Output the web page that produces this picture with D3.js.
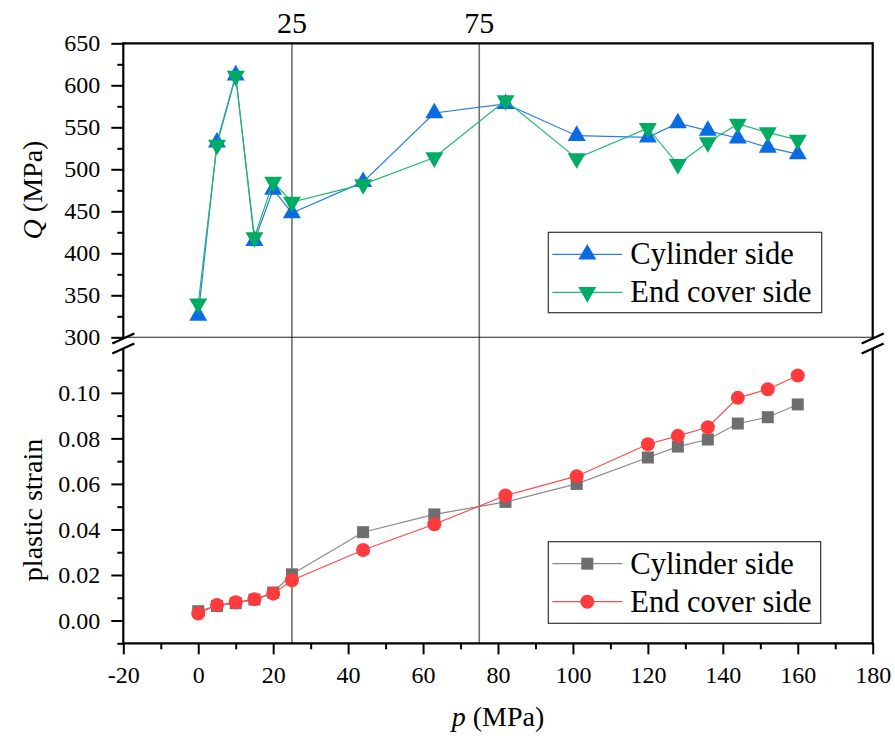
<!DOCTYPE html>
<html>
<head>
<meta charset="utf-8">
<script src="https://cdn.jsdelivr.net/npm/d3@7"></script>
<style>
  body { margin: 0; background: #fff; }
  svg { display: block; }
  text { font-family: "Liberation Serif", "Times New Roman", serif; fill: #000; }
</style>
</head>
<body>
<svg id="chart" width="895" height="742"></svg>
<script>
// Applied pressure p (MPa) at each sampling step
const pressure = [0, 5, 10, 15, 20, 25, 44, 63, 82, 101, 120, 128, 136, 144, 152, 160];

// Q (MPa) on the two sides
const qCylinder = [326, 532, 612, 415, 476, 448, 485, 567, 578, 540, 538, 555, 546, 537, 526, 518];
const qEndCover = [340, 529, 611, 419, 485, 461, 482, 514, 582, 513, 549, 506, 532, 554, 544, 535];

// Plastic strain on the two sides
const strainCylinder = [0.0041, 0.0064, 0.0076, 0.0092, 0.0123, 0.0203, 0.0388, 0.0466, 0.0521, 0.0600, 0.0716, 0.0764, 0.0795, 0.0865, 0.0893, 0.0949];
const strainEndCover = [0.0031, 0.0068, 0.0080, 0.0094, 0.0118, 0.0177, 0.0310, 0.0423, 0.0549, 0.0634, 0.0774, 0.0811, 0.0849, 0.0978, 0.1016, 0.1076];

// Reference pressures marked with vertical lines
const markerLines = [25, 75];

const seriesNames = ["Cylinder side", "End cover side"];

// Tick values
const pTicks = [-20, 0, 20, 40, 60, 80, 100, 120, 140, 160, 180];
const pMinorTicks = [-10, 10, 30, 50, 70, 90, 110, 130, 150, 170];
const qTicks = [300, 350, 400, 450, 500, 550, 600, 650];
const qMinorTicks = [325, 375, 425, 475, 525, 575, 625];
const strainTicks = [0, 0.02, 0.04, 0.06, 0.08, 0.10];
const strainMinorTicks = [-0.01, 0.01, 0.03, 0.05, 0.07, 0.09, 0.11];

const svg = d3.select("#chart");
const serif = '"Liberation Serif", "Times New Roman", serif';

const left = 123.3, right = 872.7;
const topY0 = 43.3, topY1 = 337.3;     // upper panel
const botY0 = 347.3, botY1 = 643.3;    // lower panel

const x = d3.scaleLinear().domain([-20, 180]).range([left, right]);
const yQ = d3.scaleLinear().domain([300, 650]).range([topY1, topY0]);
const yS = d3.scaleLinear().domain([-0.01, 0.12]).range([botY1, botY0]);

const colors = {
  blue: "#0a6be3", blueLine: "#2a7de6",
  green: "#00ab63", greenLine: "#22b874",
  grey: "#6e6e6e", greyLine: "#8a8a8a",
  red: "#ff3b3e", redLine: "#ff4a4d"
};

// Vertical reference lines spanning both panels
svg.append("g").selectAll("line").data(markerLines).join("line")
  .attr("x1", d => x(d)).attr("x2", d => x(d))
  .attr("y1", topY0).attr("y2", botY1)
  .attr("stroke", "#707070").attr("stroke-width", 1.6);

svg.append("g").selectAll("text").data(markerLines).join("text")
  .attr("x", d => x(d)).attr("y", 33)
  .attr("text-anchor", "middle")
  .attr("font-size", 30)
  .text(d => d);

// Upper panel frame: top line and thin lower boundary
svg.append("line").attr("x1", left).attr("x2", right).attr("y1", topY0).attr("y2", topY0)
  .attr("stroke", "#000").attr("stroke-width", 2.2);
svg.append("line").attr("x1", left).attr("x2", right).attr("y1", topY1).attr("y2", topY1)
  .attr("stroke", "#222").attr("stroke-width", 1.1);

// Axes with outward ticks
function styleAxis(g) {
  g.attr("font-family", null).attr("font-size", null);
  g.select(".domain").remove();
  g.selectAll(".tick line").attr("stroke", "#000").attr("stroke-width", 2);
  g.selectAll(".tick text")
    .style("font-family", serif)
    .style("font-size", "24px")
    .attr("fill", "#000");
}

const plain = d => String(d);

svg.append("g").attr("transform", `translate(${left},0)`)
  .call(d3.axisLeft(yQ).tickValues(qTicks).tickSize(12).tickPadding(11).tickFormat(plain))
  .call(styleAxis);
svg.append("g").attr("transform", `translate(${left},0)`)
  .call(d3.axisLeft(yQ).tickValues(qMinorTicks).tickSize(6).tickFormat(""))
  .call(styleAxis);

svg.append("g").attr("transform", `translate(${left},0)`)
  .call(d3.axisLeft(yS).tickValues(strainTicks).tickSize(12).tickPadding(11).tickFormat(d => d.toFixed(2)))
  .call(styleAxis);
svg.append("g").attr("transform", `translate(${left},0)`)
  .call(d3.axisLeft(yS).tickValues(strainMinorTicks).tickSize(6).tickFormat(""))
  .call(styleAxis);

svg.append("g").attr("transform", `translate(0,${botY1})`)
  .call(d3.axisBottom(x).tickValues(pTicks).tickSize(11).tickPadding(12).tickFormat(plain))
  .call(styleAxis);
svg.append("g").attr("transform", `translate(0,${botY1})`)
  .call(d3.axisBottom(x).tickValues(pMinorTicks).tickSize(6).tickFormat(""))
  .call(styleAxis);

// Bottom axis line
svg.append("line").attr("x1", left - 1).attr("x2", right + 1).attr("y1", botY1).attr("y2", botY1)
  .attr("stroke", "#000").attr("stroke-width", 2.2);

// Left and right axis lines, interrupted by the break
const breakA = 338.5, breakB = 348.5;
[left, right].forEach(ax => {
  svg.append("line").attr("x1", ax).attr("x2", ax).attr("y1", topY0 - 1).attr("y2", breakA)
    .attr("stroke", "#000").attr("stroke-width", 2.2);
  svg.append("line").attr("x1", ax).attr("x2", ax).attr("y1", breakB).attr("y2", botY1 + 1)
    .attr("stroke", "#000").attr("stroke-width", 2.2);
  [breakA, breakB].forEach(by => {
    svg.append("line")
      .attr("x1", ax - 11).attr("y1", by + 5)
      .attr("x2", ax + 11).attr("y2", by - 5)
      .attr("stroke", "#000").attr("stroke-width", 2.4);
  });
});

// Series drawing helper
function drawSeries(values, yScale, lineColor, markColor, symbol, rotate) {
  const pts = pressure.map((p, i) => [p, values[i]]);
  const g = svg.append("g");
  g.append("path")
    .datum(pts)
    .attr("fill", "none")
    .attr("stroke", lineColor)
    .attr("stroke-width", 1.2)
    .attr("d", d3.line().x(d => x(d[0])).y(d => yScale(d[1])));
  g.selectAll("path.mark").data(pts).join("path")
    .attr("class", "mark")
    .attr("d", symbol)
    .attr("fill", markColor)
    .attr("transform", d => `translate(${x(d[0])},${yScale(d[1])}) rotate(${rotate})`);
}

const triUp = d3.symbol().type(d3.symbolTriangle).size(140)();
const square = d3.symbol().type(d3.symbolSquare).size(144)();
const circle = d3.symbol().type(d3.symbolCircle).size(Math.PI * 7 * 7)();

drawSeries(qCylinder, yQ, colors.blueLine, colors.blue, triUp, 0);
drawSeries(qEndCover, yQ, colors.greenLine, colors.green, triUp, 180);
drawSeries(strainCylinder, yS, colors.greyLine, colors.grey, square, 0);
drawSeries(strainEndCover, yS, colors.redLine, colors.red, circle, 0);

// Legends
function legend(x0, y0, w, h, rows) {
  const g = svg.append("g");
  g.append("rect").attr("x", x0).attr("y", y0).attr("width", w).attr("height", h)
    .attr("fill", "#fff").attr("stroke", "#333").attr("stroke-width", 1.2);
  rows.forEach((r, i) => {
    const cy = y0 + 22 + i * 38;
    g.append("line").attr("x1", x0 + 4).attr("x2", x0 + 74).attr("y1", cy).attr("y2", cy)
      .attr("stroke", r.line).attr("stroke-width", 1.3);
    g.append("path").attr("d", r.symbol).attr("fill", r.mark)
      .attr("transform", `translate(${x0 + 39},${cy}) rotate(${r.rotate})`);
    g.append("text").attr("x", x0 + 82).attr("y", cy).attr("dy", "0.33em")
      .attr("font-size", 30.5).text(r.name);
  });
}

legend(548.3, 232.3, 273.4, 80.4, [
  { name: seriesNames[0], line: colors.blueLine, mark: colors.blue, symbol: triUp, rotate: 0 },
  { name: seriesNames[1], line: colors.greenLine, mark: colors.green, symbol: triUp, rotate: 180 }
]);
legend(548.3, 541.7, 272.4, 81.6, [
  { name: seriesNames[0], line: colors.greyLine, mark: colors.grey, symbol: square, rotate: 0 },
  { name: seriesNames[1], line: colors.redLine, mark: colors.red, symbol: circle, rotate: 0 }
]);

// Axis titles
const qTitle = svg.append("text")
  .attr("transform", `translate(33,190) rotate(-90)`)
  .attr("text-anchor", "middle").attr("dy", "0.33em")
  .attr("font-size", 28);
qTitle.append("tspan").attr("font-style", "italic").text("Q");
qTitle.append("tspan").text(" (MPa)");

svg.append("text")
  .attr("transform", `translate(33,510) rotate(-90)`)
  .attr("text-anchor", "middle").attr("dy", "0.33em")
  .attr("font-size", 28)
  .text("plastic strain");

const pTitle = svg.append("text")
  .attr("x", (left + right) / 2).attr("y", 726)
  .attr("text-anchor", "middle")
  .attr("font-size", 28);
pTitle.append("tspan").attr("font-style", "italic").text("p");
pTitle.append("tspan").text(" (MPa)");
</script>
</body>
</html>
